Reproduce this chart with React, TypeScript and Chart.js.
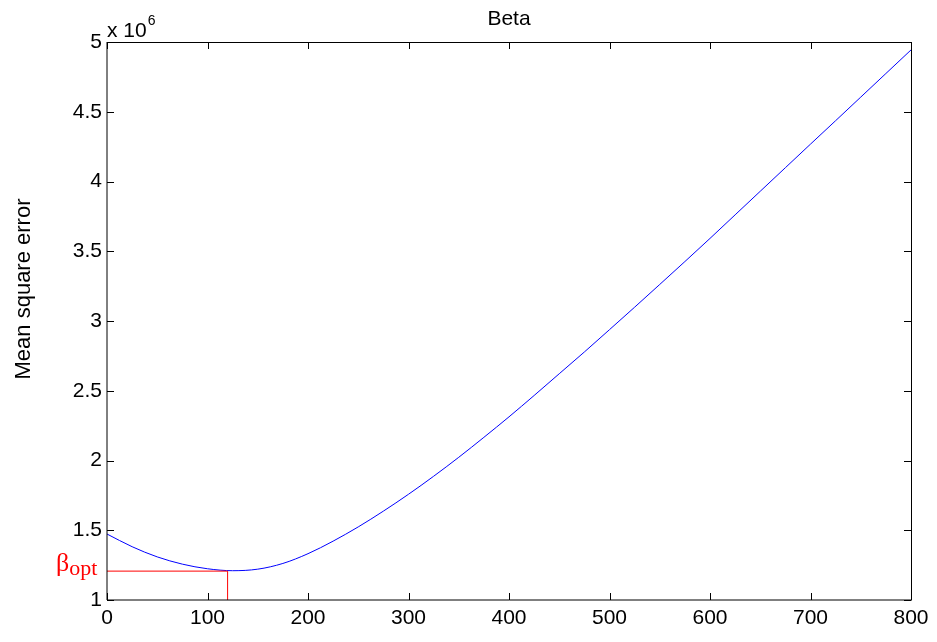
import React, { useEffect, useRef } from "react";
import { Chart, registerables } from "chart.js";

Chart.register(...registerables);

// Beta (x) values and mean square error (in units of 10^6)
const betaValues = [
  0, 25, 50, 75, 100, 125, 150, 175, 200, 225, 250, 275, 300, 325, 350, 375, 400,
  425, 450, 475, 500, 525, 550, 575, 600, 625, 650, 675, 700, 725, 750, 775, 800,
];
const mseValues = [
  1.473, 1.382, 1.309, 1.257, 1.224, 1.21, 1.221, 1.262, 1.332, 1.422, 1.524, 1.637,
  1.758, 1.887, 2.023, 2.166, 2.313, 2.466, 2.622, 2.778, 2.938, 3.099, 3.262, 3.426,
  3.592, 3.761, 3.93, 4.099, 4.268, 4.436, 4.605, 4.774, 4.943,
];
const betaOpt = 120;
const mseOpt = 1.207;

const xTicks = [0, 100, 200, 300, 400, 500, 600, 700, 800];
const yTicks = [1, 1.5, 2, 2.5, 3, 3.5, 4, 4.5, 5];

const titleText = "Beta";
const yLabelText = "Mean square error";
const exponentText = "6";

const SANS = "'Liberation Sans', Arial, Helvetica, sans-serif";
const SERIF = "'Liberation Serif', 'Times New Roman', serif";

const decorPlugin = {
  id: "matlabDecor",
  afterDraw(chart: any) {
    const { ctx, chartArea, scales } = chart;
    const xs = scales.x;
    const ys = scales.y;
    const { left, top, right, bottom } = chartArea;
    ctx.save();
    ctx.strokeStyle = "#000";
    ctx.lineWidth = 1;
    // box
    ctx.beginPath();
    ctx.moveTo(left, bottom);
    ctx.lineTo(left, top);
    ctx.moveTo(left, top + 0.5);
    ctx.lineTo(right + 0.5, top + 0.5);
    ctx.moveTo(right + 0.5, top);
    ctx.lineTo(right + 0.5, bottom);
    ctx.moveTo(left, bottom);
    ctx.lineTo(right + 1, bottom);
    ctx.stroke();
    // ticks
    const tl = 7;
    ctx.beginPath();
    xTicks.forEach((v) => {
      const px = Math.round(xs.getPixelForValue(v)) + 0.5;
      ctx.moveTo(px, bottom);
      ctx.lineTo(px, bottom - tl);
      ctx.moveTo(px, top);
      ctx.lineTo(px, top + tl);
    });
    yTicks.forEach((v) => {
      const py = Math.round(ys.getPixelForValue(v)) + 0.5;
      ctx.moveTo(left, py);
      ctx.lineTo(left + tl, py);
      ctx.moveTo(right, py);
      ctx.lineTo(right - tl, py);
    });
    ctx.stroke();

    // title
    ctx.fillStyle = "#000";
    ctx.font = `21px ${SANS}`;
    ctx.textAlign = "center";
    ctx.textBaseline = "alphabetic";
    ctx.fillText(titleText, (left + right) / 2, 25);

    // exponent
    ctx.textAlign = "left";
    ctx.font = `21px ${SANS}`;
    ctx.fillText("x 10", left, 37);
    const w = ctx.measureText("x 10").width;
    ctx.font = `14px ${SANS}`;
    ctx.fillText(exponentText, left + w + 1, 25);

    // y label
    ctx.save();
    ctx.translate(30, 289);
    ctx.rotate(-Math.PI / 2);
    ctx.font = `22px ${SANS}`;
    ctx.textAlign = "center";
    ctx.textBaseline = "alphabetic";
    ctx.fillText(yLabelText, 0, 0);
    ctx.restore();

    // beta_opt label
    const yOpt = ys.getPixelForValue(mseOpt);
    ctx.fillStyle = "#ff0000";
    ctx.font = `26px ${SERIF}`;
    ctx.textAlign = "left";
    ctx.fillText("β", 56, yOpt);
    const bw = ctx.measureText("β").width;
    ctx.font = `22px ${SERIF}`;
    ctx.fillText("opt", 56 + bw, yOpt + 4);
    ctx.restore();
  },
};

export default function App() {
  const ref = useRef<HTMLCanvasElement | null>(null);
  useEffect(() => {
    if (!ref.current) return;
    const curve = betaValues.map((b, i) => ({ x: b, y: mseValues[i] }));
    const chart = new Chart(ref.current, {
      type: "line",
      data: {
        datasets: [
          {
            data: [
              { x: 0, y: mseOpt },
              { x: betaOpt, y: mseOpt },
            ],
            borderColor: "#ff0000",
            borderWidth: 1,
            pointRadius: 0,
            tension: 0,
          },
          {
            data: [
              { x: betaOpt, y: 1 },
              { x: betaOpt, y: mseOpt },
            ],
            borderColor: "#ff0000",
            borderWidth: 1,
            pointRadius: 0,
            tension: 0,
          },
          {
            data: curve,
            borderColor: "#0000ff",
            borderWidth: 1,
            pointRadius: 0,
            cubicInterpolationMode: "monotone",
          },
        ],
      },
      options: {
        responsive: false,
        animation: false,
        devicePixelRatio: 1,
        layout: { padding: { top: 42, right: 26, left: 0, bottom: 0 } },
        plugins: {
          legend: { display: false },
          tooltip: { enabled: false },
          title: { display: false },
        },
        scales: {
          x: {
            type: "linear",
            min: 0,
            max: 800,
            grid: { display: false, drawTicks: false },
            border: { display: false },
            afterBuildTicks: (scale: any) => {
              scale.ticks = xTicks.map((v) => ({ value: v }));
            },
            afterFit: (scale: any) => {
              scale.height = 42;
            },
            ticks: {
              padding: 6,
              maxRotation: 0,
              color: "#000",
              font: { family: SANS, size: 21 },
              callback: (v: any) => String(v),
            },
          },
          y: {
            type: "linear",
            min: 1,
            max: 5,
            grid: { display: false, drawTicks: false },
            border: { display: false },
            afterBuildTicks: (scale: any) => {
              scale.ticks = yTicks.map((v) => ({ value: v }));
            },
            afterFit: (scale: any) => {
              scale.width = 107;
            },
            ticks: {
              padding: 5,
              color: "#000",
              font: { family: SANS, size: 21 },
              callback: (v: any) => String(v),
            },
          },
        },
      },
      plugins: [decorPlugin],
    });
    return () => chart.destroy();
  }, []);
  return (
    <div style={{ position: "fixed", left: 0, top: 0, width: 937, height: 642, background: "#fff" }}>
      <canvas ref={ref} width={937} height={642} style={{ width: 937, height: 642 }} />
    </div>
  );
}
